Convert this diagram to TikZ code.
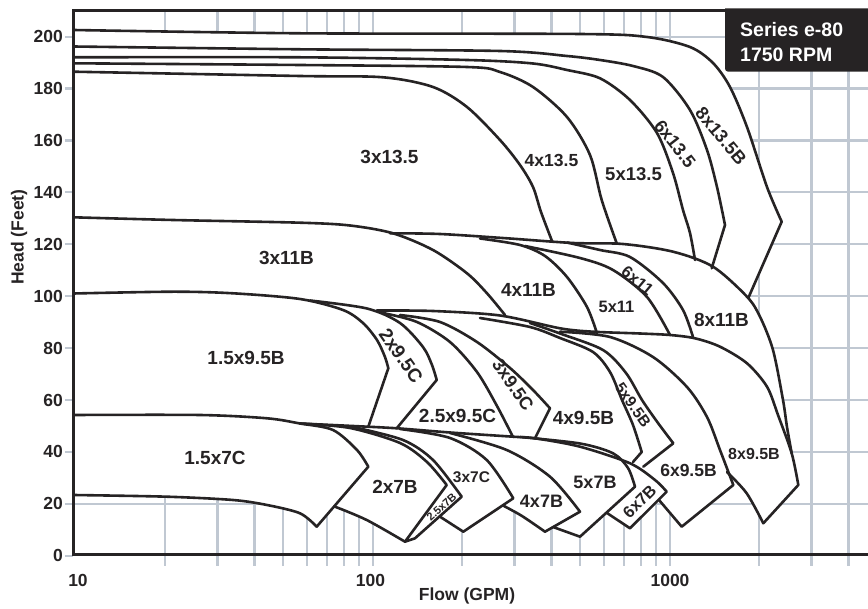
\documentclass[tikz,border=0pt]{standalone}
\usepackage{fontspec}
\setmainfont{Liberation Sans}
\definecolor{ink}{RGB}{38,35,36}
\definecolor{gridc}{RGB}{192,200,210}
\begin{document}
\begin{tikzpicture}[x=1pt,y=-1pt,
  curve/.style={draw=ink,line width=2.6pt,line join=round,line cap=round},
  gridl/.style={draw=gridc,line width=2.2pt},
  axis/.style={draw=ink,line width=3.2pt},
  axlab/.style={font=\bfseries\fontsize{17.5}{18}\selectfont,text=ink,inner sep=0pt},
  plab/.style={font=\bfseries\fontsize{19}{19}\selectfont,text=ink,inner sep=0pt},
  slab/.style={font=\bfseries\fontsize{16.5}{17}\selectfont,text=ink,inner sep=0pt},
  boxlab/.style={font=\bfseries\fontsize{19.5}{20}\selectfont,text=white,inner sep=0pt,anchor=west}]
\useasboundingbox (0,0) rectangle (868,609);
% grid
\foreach \gx in {165.1,217.4,254.5,283.3,306.8,326.7,343.9,359.1,372.7,462.1,514.4,551.5,580.3,603.8,623.7,640.9,656.1,669.7,759.1,811.4,848.5}
  \draw[gridl] (\gx,11) -- (\gx,566);
\foreach \h in {20,40,...,200}
  \draw[gridl] (65,{555.7-2.595*\h}) -- (868,{555.7-2.595*\h});
\draw[gridl] (65,555.7) -- (73,555.7);
% white envelope
\fill[white] plot[smooth] coordinates {(73.5,30) (300,33.3) (580,34) (647,37) (690,47) (713,63) (730,87) (747,127) (767,187) (781.7,221.7)}
  -- (748.3,298)
  -- plot[smooth] coordinates {(748.3,298) (760,316.7) (773,350) (783,400) (787,427) (791.7,453.3)}
  -- (798.3,485) -- (763.3,523.3) -- (746.7,493.3) -- (727,472) -- (733.3,485) -- (681.7,526.7) -- (659,500)
  -- (630,528.3) -- (607,513) -- (580,536.7) -- (553,527) -- (545,531.7)
  -- plot[smooth] coordinates {(545,531.7) (522,516) (503,505.5)}
  -- (463.3,531.7) -- (440,516.7) -- (415,538.3) -- (405,541.7)
  -- plot[smooth] coordinates {(405,541.7) (366.7,520) (335,506.7)}
  -- (316.7,526.7)
  -- plot[smooth] coordinates {(316.7,526.7) (300,513.3) (267,505) (233,500) (167,496.7) (73.5,495)}
  -- cycle;
% 13.5 family
\draw[curve] plot[smooth] coordinates {(73.5,30) (300,33.3) (580,34) (647,37) (690,47) (713,63) (730,87) (747,127) (767,187) (781.7,221.7)} -- (748.3,298);
\draw[curve] plot[smooth] coordinates {(73.5,46.5) (300,49.3) (500,51) (567,56) (600,60) (633,66) (663,77) (690,110) (707,150) (717,187) (725,225)} -- (711.7,268.3);
\draw[curve] plot[smooth] coordinates {(73.5,57.3) (300,57.3) (467,60) (533,63.5) (567,70) (600,78.3) (630,100) (657,133) (673,173) (683,210) (690,233) (695,260)};
\draw[curve] plot[smooth] coordinates {(73.5,63.3) (300,65) (467,67) (500,72) (533,87) (567,117) (590,155) (601.7,200) (616.7,243.3)};
\draw[curve] plot[smooth] coordinates {(73.5,71.7) (300,76) (383,77.3) (433,87) (467,107) (500,140) (520,165) (533,187) (541,212) (552,241)};
% 11 family
\draw[curve] plot[smooth] coordinates {(73.5,217.3) (173,220) (300,222.7) (350,225.5) (393,233.3) (433,250) (467,273.3) (487,293.3) (505,315)};
\draw[curve] plot[smooth] coordinates {(390,233.3) (440,234) (507,238.3) (573,243) (623,244) (673,251.7) (713,266.7) (747,296.7) (760,316.7) (773,350) (783,400) (787,427) (791.7,453.3)};
\draw[curve] plot[smooth] coordinates {(480,238.5) (520,245) (545,256) (567,277) (587,307) (597,333.3)};
\draw[curve] plot[smooth] coordinates {(525,246) (580,258) (613,270) (647,297) (670,335)};
\draw[curve] plot[smooth] coordinates {(567,242.5) (600,250) (630,257) (663,283) (683,310) (693,337)};
% 9.5 family
\draw[curve] plot[smooth] coordinates {(73.5,293.5) (173,291.7) (233,293.3) (300,299) (343,310) (363,323) (377,340) (385,357) (388.3,368.3)} -- (368.3,426.7);
\draw[curve] plot[smooth] coordinates {(310,300.5) (367,308.5) (400,323) (423,347) (432,365) (436.7,380)} -- (396.7,428.3);
\draw[curve] plot[smooth] coordinates {(376.7,310.5) (433,311) (500,315.5) (560,328.3) (593,331.7) (640,333.5) (670,335) (695,338.3) (720,346.7) (747,363.3) (767,386.7) (778,415) (791.7,453.3) (798.3,485)} -- (763.3,523.3);
\draw[curve] plot[smooth] coordinates {(763.3,523.3) (746.7,493.3) (727,472)};
\draw[curve] plot[smooth] coordinates {(383,313) (417,322) (450,342) (477,372) (497,406) (513,437)};
\draw[curve] plot[smooth] coordinates {(400,315) (440,322) (477,342) (510,368) (533,390) (550,408.3)} -- (535,438.3);
\draw[curve] plot[smooth] coordinates {(480,318) (530,327) (560,338) (593,352) (610,372) (622,400) (633,425) (641.7,452)} -- (633,462);
\draw[curve] plot[smooth] coordinates {(530,323) (560,333.5) (603,350) (626,373) (642,400) (658,423) (673.3,443.3)} -- (643.3,466.7);
\draw[curve] plot[smooth] coordinates {(560,331.7) (610,337) (653,357) (687,387) (707,417) (720,450) (733.3,485)} -- (681.7,526.7) -- (659,500);
% 7 family
\draw[curve] plot[smooth] coordinates {(73.5,415) (200,415) (267,418.3) (300,423.5) (333,430) (357,450) (368.3,466.7)} -- (316.7,526.7);
\draw[curve] plot[smooth] coordinates {(316.7,526.7) (300,513.3) (267,505) (233,500) (167,496.7) (73.5,495)};
\draw[curve] plot[smooth] coordinates {(300,423.5) (350,428) (400,443) (427,462) (446.7,485)} -- (405,541.7);
\draw[curve] plot[smooth] coordinates {(405,541.7) (366.7,520) (335,506.7)};
\draw[curve] plot[smooth] coordinates {(300,423.5) (353,426) (397,428.3) (450,432.5) (513,436.7) (535,438.3) (580,446.7) (630,463.3) (655,480) (666.7,491.7)} -- (630,528.3) -- (607,513);
\draw[curve] plot[smooth] coordinates {(353,427) (403,440) (433,460) (461.7,496.7)} -- (415,538.3) -- (405,541.7);
\draw[curve] plot[smooth] coordinates {(400,429) (450,438) (486.7,460) (513.3,498.3)} -- (463.3,531.7) -- (440,516.7);
\draw[curve] plot[smooth] coordinates {(450,433) (506.7,450) (550,476.7) (580,511.7)} -- (545,531.7);
\draw[curve] plot[smooth] coordinates {(545,531.7) (522,516) (503,505.5)};
\draw[curve] plot[smooth] coordinates {(520,437) (580,443.5) (613,453.3) (628,468) (635,486.7)} -- (580,536.7) -- (553,527);
% axes and frame
\draw[axis] (73.5,10.5) -- (73.5,555.7);
\draw[axis] (72,554.5) -- (868,554.5);
\draw[axis] (72,10.5) -- (868,10.5);
\fill[ink] (890,8.5) -- (725,8.5) -- (725,64.7) .. controls (725,71.7) .. (732,71.7) -- (890,71.7) -- cycle;
\node[boxlab] (s1) at (740,30) {Series e-80};
\node[boxlab] (s2) at (740,54.5) {1750 RPM};
% axis labels
\foreach \h in {0,20,...,200}
  \node[axlab,anchor=east] (yl\h) at (63,{555.7-2.595*\h}) {\h};
\node[axlab] (x10) at (78,580) {10};
\node[axlab] (x100) at (370.5,580) {100};
\node[axlab] (x1000) at (670,580) {1000};
\node[axlab] (xt) at (467,596) {Flow (GPM)};
\node[axlab,rotate=90] (yt) at (19,237) {Head (Feet)};
% pump labels
\node[plab] (p1) at (389.5,157) {3x13.5};
\node[slab,font=\bfseries\fontsize{17.5}{18}\selectfont] (p2) at (551.5,160) {4x13.5};
\node[plab,font=\bfseries\fontsize{18.5}{19}\selectfont] (p3) at (633.5,174.5) {5x13.5};
\node[plab,font=\bfseries\fontsize{18}{19}\selectfont,rotate=-52] (p4) at (675,144) {6x13.5};
\node[plab,font=\bfseries\fontsize{18}{19}\selectfont,rotate=-50] (p5) at (721,136) {8x13.5B};
\node[plab] (p6) at (286.5,258) {3x11B};
\node[plab] (p7) at (528.5,290) {4x11B};
\node[slab] (p8) at (616.5,307) {5x11};
\node[slab,rotate=-40] (p9) at (637.5,281) {6x11};
\node[plab] (p10) at (721.5,320) {8x11B};
\node[plab] (p11) at (246,357.5) {1.5x9.5B};
\node[plab,rotate=-55] (p12) at (401,356) {2x9.5C};
\node[plab] (p13) at (457.5,415.5) {2.5x9.5C};
\node[plab,font=\bfseries\fontsize{18}{19}\selectfont,rotate=-55] (p14) at (513,385) {3x9.5C};
\node[plab] (p15) at (583.5,418) {4x9.5B};
\node[slab,font=\bfseries\fontsize{15.5}{16}\selectfont,rotate=-55] (p16) at (633,405) {5x9.5B};
\node[plab,font=\bfseries\fontsize{17.5}{18}\selectfont] (p17) at (688.5,470.5) {6x9.5B};
\node[slab,font=\bfseries\fontsize{16}{17}\selectfont] (p18) at (754,453.5) {8x9.5B};
\node[plab] (p19) at (215,457.5) {1.5x7C};
\node[plab] (p20) at (395,486.5) {2x7B};
\node[slab,font=\bfseries\fontsize{11}{12}\selectfont,rotate=42] (p21) at (441.5,507) {2.5x7B};
\node[slab,font=\bfseries\fontsize{15.5}{16}\selectfont] (p22) at (471.5,477.5) {3x7C};
\node[plab,font=\bfseries\fontsize{18}{19}\selectfont] (p23) at (541.5,501.5) {4x7B};
\node[plab,font=\bfseries\fontsize{18}{19}\selectfont] (p24) at (595,482) {5x7B};
\node[slab,rotate=45] (p25) at (639.5,501.5) {6x7B};
\end{tikzpicture}
\end{document}
